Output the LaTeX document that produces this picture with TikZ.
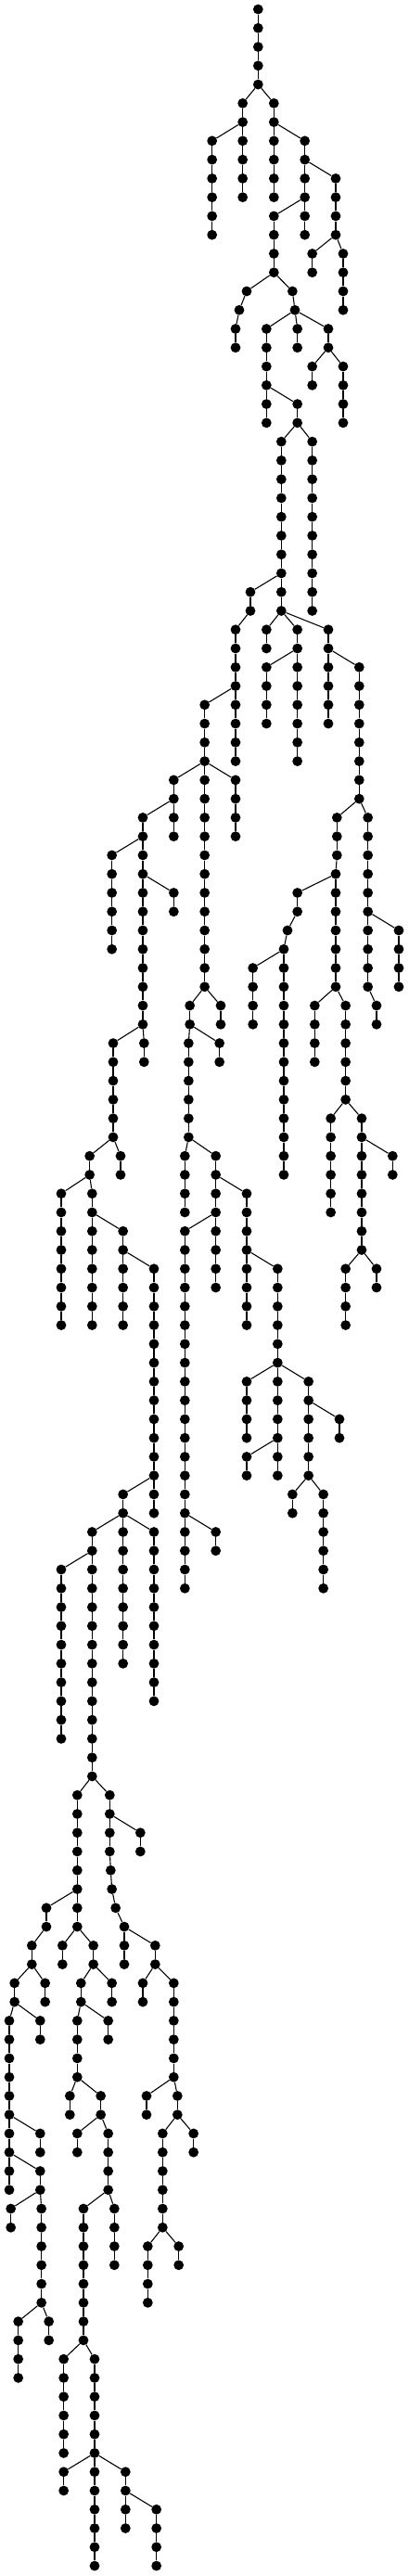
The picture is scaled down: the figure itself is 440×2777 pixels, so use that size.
\documentclass[tikz,border=0pt]{standalone}
\tikzset{
  dot/.style={circle,fill=black,draw=none,inner sep=0pt,minimum size=10.8pt},
  edge/.style={line width=1.1pt,black}
}
\begin{document}
\begin{tikzpicture}[x=1pt,y=-1pt]
\useasboundingbox (0,0) rectangle (440,2777);
\node[dot] (v835-0) at ({835/3},10) {};
\foreach \x/\s/\e/\px/\pl in {
835/1/4/835/0,
785/5/10/835/4,
886/5/10/835/4,
686/7/12/785/6,
986/7/12/886/6,
1086/9/12/986/8,
886/11/14/986/10,
1010/13/14/1086/12,
1110/13/16/1086/12,
798/15/15/886/14,
946/15/15/886/14,
774/16/16/798/15,
762/17/18/774/16,
954/16/16/946/15,
862/17/22/954/16,
962/17/18/954/16,
1062/17/18/954/16,
1010/19/20/1062/18,
1110/19/22/1062/18,
962/21/22/862/20,
910/23/32/962/22,
1010/23/32/962/22,
810/31/32/910/30,
762/33/40/810/32,
862/33/34/910/32,
962/33/40/910/32,
1062/33/38/910/32,
862/35/38/962/34,
1162/35/42/1062/34,
662/37/52/762/36,
562/41/44/662/40,
762/41/44/662/40,
462/43/54/562/42,
362/45/50/462/44,
562/47/48/462/46,
1090/43/45/1162/42,
1190/43/52/1162/42,
1086/46/52/1090/45,
962/47/48/1086/46,
930/49/49/962/48,
918/50/62/930/49,
818/51/54/918/50,
1290/49/52/1190/48,
1218/53/54/1190/52,
614/53/54/662/52,
714/53/54/662/52,
1018/53/56/1086/52,
1118/53/58/1086/52,
366/55/60/462/54,
466/55/56/462/54,
610/55/60/614/54,
710/55/56/614/54,
1070/59/64/1118/58,
1170/59/66/1118/58,
1270/61/62/1170/60,
1118/67/70/1170/66,
1218/67/68/1170/66,
290/61/62/366/60,
390/61/62/366/60,
198/63/70/290/62,
298/63/70/290/62,
398/65/70/298/64,
498/67/80/398/66,
598/61/64/610/60,
698/61/68/610/60,
798/63/70/698/62,
598/65/84/698/64,
898/67/78/798/66,
798/73/76/898/72,
998/73/78/898/72,
1098/75/76/998/74,
798/77/78/898/76,
946/79/80/998/78,
1046/79/84/998/78,
398/79/88/498/78,
698/81/82/598/80,
298/81/94/398/80,
498/81/90/398/80,
198/83/92/298/82,
250/95/102/298/94,
355/95/98/298/94,
454/97/98/355/96,
358/99/99/355/98,
362/100/100/358/99,
374/101/101/362/100,
402/102/104/374/101,
502/103/104/402/102,
462/105/106/502/104,
562/105/110/502/104,
474/111/112/562/110,
574/111/112/562/110,
526/113/118/574/112,
626/113/114/574/112,
478/119/122/526/118,
578/119/120/526/118,
150/101/102/250/100,
103/103/104/150/102,
202/103/104/250/102,
302/103/104/250/102,
47/105/106/103/104,
146/105/106/103/104,
262/105/106/302/104,
362/105/106/302/104,
30/107/116/47/106,
130/107/108/47/106,
250/107/110/262/106,
350/107/108/262/106,
226/111/112/250/110,
326/111/112/250/110,
130/113/114/30/112,
250/113/114/326/112,
350/113/116/326/112,
130/115/116/30/114,
35/117/118/130/116,
134/117/122/130/116,
270/117/124/350/116,
370/117/120/350/116,
59/123/126/134/122,
158/123/124/134/122,
206/125/130/270/124,
306/125/136/270/124,
206/131/132/306/130,
406/131/134/306/130,
506/133/136/406/132%
}{
  \node[dot] (v\x-\s) at ({\x/3},{10+\s*20.265}) {};
  \draw[edge] (v\px-\pl) -- (v\x-\s);
  \ifnum\e>\s\relax
    \pgfmathtruncatemacro\myS{\s+1}
    \foreach \l in {\myS,...,\e}{
      \pgfmathtruncatemacro\myP{\l-1}
      \node[dot] (v\x-\l) at ({\x/3},{10+\l*20.265}) {};
      \draw[edge] (v\x-\myP) -- (v\x-\l);
    }
  \fi
}
\end{tikzpicture}
\end{document}
